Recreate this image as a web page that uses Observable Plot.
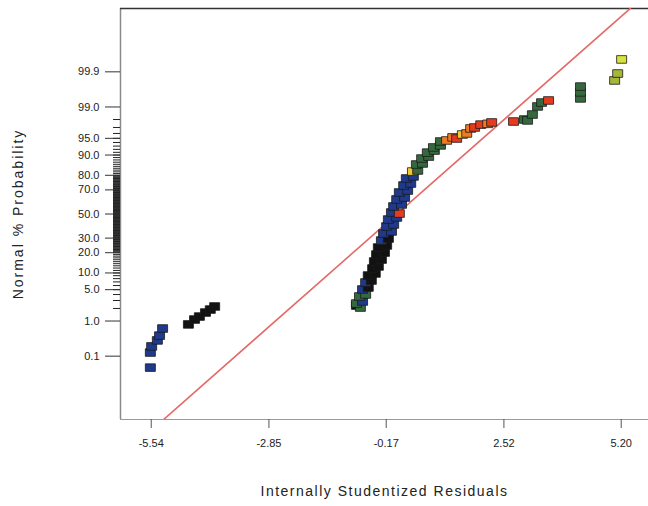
<!DOCTYPE html>
<html><head><meta charset="utf-8">
<script src="https://cdn.jsdelivr.net/npm/d3@7"></script>
<script src="https://cdn.jsdelivr.net/npm/@observablehq/plot@0.6"></script>
<style>body{margin:0;background:#fff}</style>
</head><body><div id="chart"></div>
<script>
// ---- data ----
const residuals = [
  -5.56, -5.56, -5.53, -5.40, -5.35, -5.28,
  -4.69, -4.55, -4.44, -4.30, -4.19, -4.09,
  -0.85, -0.76, -0.85, -0.71, -0.78, -0.64, -0.71, -0.58, -0.64, -0.51,
  -0.58, -0.42, -0.48, -0.35, -0.44, -0.28, -0.39, -0.21, -0.35, -0.16,
  -0.28, -0.12, -0.23, -0.05, -0.16, 0.00, -0.12, 0.07, -0.05, 0.13,
  0.00, 0.18, 0.07, 0.25, 0.13, 0.32, 0.23, 0.39, 0.29, 0.45,
  0.43, 0.55, 0.52, 0.66, 0.64, 0.80, 0.77, 0.93, 0.91, 1.07,
  1.07, 1.21, 1.35, 1.44, 1.57, 1.67, 1.76, 1.85, 1.99, 2.15,
  2.24, 2.74,
  2.99, 3.06, 3.17, 3.29, 3.38, 3.54, 4.27, 4.27, 4.27, 5.05, 5.12, 5.21
];
const probabilities = [
  0.042, 0.13, 0.20, 0.30, 0.41, 0.64,
  0.82, 1.09, 1.29, 1.61, 1.89, 2.22,
  2.33, 2.10, 2.58, 2.86, 3.65, 4.01, 5.04, 5.50, 6.83, 7.41,
  9.06, 9.80, 11.8, 12.7, 15.1, 16.1, 18.9, 20.1, 23.3, 24.7,
  28.2, 29.7, 33.6, 35.2, 39.3, 41.0, 45.2, 47.0, 51.3, 50.4,
  56.5, 58.2, 62.4, 64.0, 68.0, 69.5, 73.2, 74.6, 78.0, 79.3,
  82.2, 82.8, 85.9, 86.4, 88.6, 89.4, 90.9, 91.6, 92.6, 93.2,
  94.25, 94.5, 95.2, 94.96, 95.8, 96.0, 96.85, 97.0, 97.4, 97.5,
  97.67, 97.78,
  98.0, 97.9, 98.47, 99.03, 99.23, 99.32, 99.40, 99.59, 99.72, 99.815, 99.887, 99.961
];
// colour classes of the points (level 1 = lowest … level 8 = highest)
const levels = [
  "L1","L1","L1","L1","L1","L1",
  "L2","L2","L2","L2","L2","L2",
  "L2","L3","L3","L1","L3","L3","L1","L2","L1","L2",
  "L2","L2","L2","L2","L2","L2","L2","L2","L2","L2",
  "L1","L2","L1","L1","L1","L1","L1","L1","L1","L6",
  "L1","L1","L1","L1","L1","L1","L1","L1","L1","L1",
  "L4","L3","L3","L3","L3","L3","L3","L3","L3","L3",
  "L3","L5","L5","L6","L4","L5","L5","L6","L6","L5",
  "L6","L6",
  "L3","L3","L3","L3","L3","L6","L3","L3","L3","L7","L7","L8"
];
const levelNames = ["L1","L2","L3","L4","L5","L6","L7","L8"];
const levelColors = ["#1f3a8c","#121212","#35693d","#f0c832","#f07a22","#e63a1e","#a6b636","#d6e23e"];

const xTicks = [-5.54, -2.85, -0.17, 2.52, 5.20];
const yTickPercents = [0.1, 1, 5, 10, 20, 30, 50, 70, 80, 90, 95, 99, 99.9];
const yTickLabels = ["0.1","1.0","5.0","10.0","20.0","30.0","50.0","70.0","80.0","90.0","95.0","99.0","99.9"];
const minorPercents = d3.range(2, 99).concat(d3.range(20.5, 80, 1));

const refResiduals = [-5.26, 5.41];
const refProbabilities = [0.00039, 99.99961];

const xDomain = [-6.242, 5.824];
const zDomain = [-4.467, 4.467];

// ---- inverse normal CDF (probability scale) ----
function probit(p) {
  const a=[-3.969683028665376e+01,2.209460984245205e+02,-2.759285104469687e+02,1.383577518672690e+02,-3.066479806614716e+01,2.506628277459239e+00];
  const b=[-5.447609879822406e+01,1.615858368580409e+02,-1.556989798598866e+02,6.680131188771972e+01,-1.328068155288572e+01];
  const c=[-7.784894002430293e-03,-3.223964580411365e-01,-2.400758277161838e+00,-2.549732539343734e+00,4.374664141464968e+00,2.938163982698783e+00];
  const d=[7.784695709041462e-03,3.224671290700398e-01,2.445134137142996e+00,3.754408661907416e+00];
  const pl=0.02425, ph=1-pl;
  if (p < pl) { const q=Math.sqrt(-2*Math.log(p)); return (((((c[0]*q+c[1])*q+c[2])*q+c[3])*q+c[4])*q+c[5])/((((d[0]*q+d[1])*q+d[2])*q+d[3])*q+1); }
  if (p > ph) { const q=Math.sqrt(-2*Math.log(1-p)); return -(((((c[0]*q+c[1])*q+c[2])*q+c[3])*q+c[4])*q+c[5])/((((d[0]*q+d[1])*q+d[2])*q+d[3])*q+1); }
  const q=p-0.5, r=q*q;
  return (((((a[0]*r+a[1])*r+a[2])*r+a[3])*r+a[4])*r+a[5])*q/(((((b[0]*r+b[1])*r+b[2])*r+b[3])*r+b[4])*r+1);
}
const z = (pct) => probit(pct / 100);

const points = residuals.map((x, i) => ({x, z: z(probabilities[i]), g: levels[i]}));
const refLine = refResiduals.map((x, i) => ({x, z: z(refProbabilities[i])}));
const majorZ = yTickPercents.map(z);
const labelByZ = new Map(majorZ.map((v, i) => [v, yTickLabels[i]]));
const minorZ = minorPercents.map(z);

const rectSymbol = { draw(ctx) { ctx.rect(-5, -3.8, 10, 7.6); } };

const font = "'Liberation Sans', Arial, sans-serif";

const chart = Plot.plot({
  width: 648, height: 506,
  marginLeft: 120, marginRight: 0, marginTop: 8, marginBottom: 87,
  x: {domain: xDomain},
  y: {domain: zDomain},
  color: {type: "ordinal", domain: levelNames, range: levelColors},
  style: {fontFamily: font, fontSize: "11px", color: "#222", background: "#fff"},
  marks: [
    Plot.ruleX([xDomain[0]], {stroke: "#8a8a8a", strokeWidth: 1.5}),
    Plot.ruleY([zDomain[1]], {stroke: "#333", strokeWidth: 1.5}),
    Plot.ruleY([zDomain[0]], {stroke: "#9a9a9a", strokeWidth: 1.2}),
    Plot.axisY(minorZ, {tickSize: 7, tickFormat: () => "", label: null, stroke: "#222", strokeWidth: 1}),
    Plot.axisY(majorZ, {tickSize: 15, tickPadding: 6, tickFormat: (d) => labelByZ.get(d), label: null, stroke: "#333", fill: "#222"}),
    Plot.axisX(xTicks, {tickSize: 9, tickPadding: 11, tickFormat: (d) => d.toFixed(2), label: null, stroke: "#555", fill: "#222"}),
    Plot.line(refLine, {x: "x", y: "z", stroke: "#e46a68", strokeWidth: 1.6, clip: true}),
    Plot.dot(points, {x: "x", y: "z", fill: "g", stroke: "#1a1a1a", strokeWidth: 0.8, symbol: rectSymbol, r: 5}),
    Plot.text(["Normal % Probability"], {frameAnchor: "left", rotate: -90, textAnchor: "middle", dx: -102, fontSize: 14, fill: "#222"}),
    Plot.text(["Internally Studentized Residuals"], {frameAnchor: "bottom", textAnchor: "middle", dy: 76, fontSize: 14, fill: "#222"})
  ]
});
chart.querySelectorAll("text").forEach(t => {
  if (/Probability/.test(t.textContent)) t.style.letterSpacing = "2px";
  if (/Residuals/.test(t.textContent)) t.style.letterSpacing = "1.5px";
});
document.getElementById("chart").appendChild(chart);
</script>
</body></html>
